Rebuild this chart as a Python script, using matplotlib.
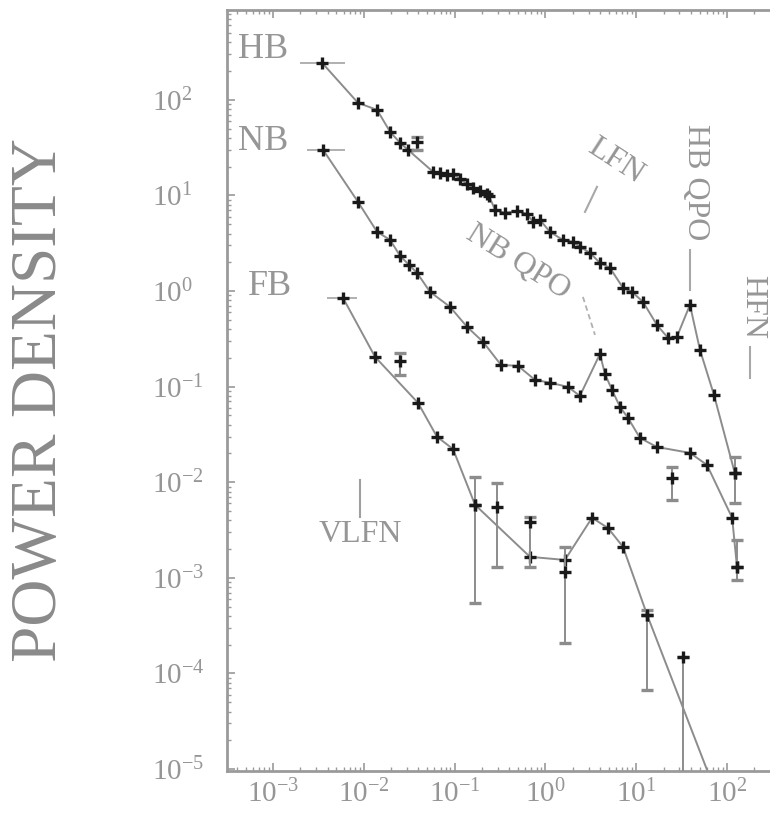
import numpy as np
import matplotlib
matplotlib.use('Agg')
import matplotlib.pyplot as plt

plt.rcParams['font.family'] = ['Liberation Serif', 'DejaVu Serif']
plt.rcParams['mathtext.fontset'] = 'custom'
plt.rcParams['mathtext.rm'] = 'Liberation Serif'
plt.rcParams['mathtext.it'] = 'Liberation Serif:italic'

# horizontal branch spectrum (Hz, power)
hb_freq = [0.00347, 0.00863, 0.0140, 0.0195, 0.0251, 0.0307, 0.0578, 0.0690, 0.0824,
           0.0960, 0.115, 0.137, 0.160, 0.190, 0.228, 0.239, 0.279, 0.359, 0.486,
           0.627, 0.730, 0.873, 1.12, 1.56, 2.01, 2.40, 3.10, 3.99, 5.14, 7.16, 8.99,
           11.9, 16.9, 22.4, 28.1, 39.1, 50.4, 71.9, 122]
hb_power = [244, 93.0, 78.6, 46.2, 35.5, 30.0, 17.7, 17.2, 16.4,
            16.8, 14.9, 13.2, 12.0, 11.2, 10.4, 9.91, 7.06, 6.58, 6.90,
            6.42, 5.30, 5.56, 4.16, 3.43, 3.27, 2.90, 2.51, 1.97, 1.75, 1.08, 0.981,
            0.771, 0.443, 0.324, 0.332, 0.718, 0.243, 0.0820, 0.0125]

# normal branch spectrum
nb_freq = [0.00356, 0.00863, 0.0140, 0.0195, 0.0251, 0.0315, 0.0386, 0.0536, 0.0890,
           0.137, 0.206, 0.324, 0.499, 0.767, 1.12, 1.77, 2.40, 3.99, 4.53, 5.41,
           6.63, 8.12, 11.0, 16.9, 39.1, 60.2, 114, 129]
nb_power = [30.0, 8.57, 4.16, 3.43, 2.33, 1.88, 1.55, 0.981, 0.684,
            0.423, 0.294, 0.169, 0.165, 0.118, 0.110, 0.0996, 0.0801, 0.220, 0.136, 0.0927,
            0.0615, 0.0472, 0.0291, 0.0234, 0.0203, 0.0152, 0.00425, 0.00130]

# flaring branch spectrum
fb_freq = [0.00590, 0.0133, 0.0395, 0.0640, 0.0960, 0.168, 0.676, 1.64, 3.26,
           4.89, 7.16, 13.2, 68.0]
fb_power = [0.849, 0.205, 0.0678, 0.0299, 0.0223, 0.00581, 0.00166, 0.00154, 0.00425,
            0.00333, 0.00211, 0.000410, 7.3e-6]

# points with vertical error bars: freq, power, lower, upper
err_freq = [0.0386, 0.0251, 0.168, 0.293, 0.676, 1.64, 13.2, 32.7, 24.8, 122, 129]
err_power = [36.4, 0.186, 0.00581, 0.00553, 0.00386, 0.00116, 0.000410, 0.000149,
             0.0111, 0.0125, 0.00130]
err_low = [30.0, 0.133, 0.000547, 0.00130, 0.00130, 0.000209, 6.7e-5, 3e-6,
           0.00655, 0.00610, 0.000953]
err_high = [41.0, 0.226, 0.0114, 0.00986, 0.00430, 0.00211, 0.000461, 0.000149,
            0.0145, 0.0184, 0.00250]

# first bins carry horizontal bars
first_freq = [0.00347, 0.00356, 0.00590]
first_power = [244, 30.0, 0.849]
first_left = [0.00198, 0.00237, 0.00394]
first_right = [0.00621, 0.00621, 0.00841]

xticks = [1e-3, 1e-2, 1e-1, 1e0, 1e1, 1e2]
xticklabels = [r'$10^{-3}$', r'$10^{-2}$', r'$10^{-1}$', r'$10^{0}$', r'$10^{1}$', r'$10^{2}$']
yticks = [1e-5, 1e-4, 1e-3, 1e-2, 1e-1, 1e0, 1e1, 1e2]
yticklabels = [r'$10^{-5}$', r'$10^{-4}$', r'$10^{-3}$', r'$10^{-2}$', r'$10^{-1}$',
               r'$10^{0}$', r'$10^{1}$', r'$10^{2}$']

line_c = '#8c8c8c'
mark_c = '#1a1a1a'
text_c = '#969696'

fig = plt.figure(figsize=(7.7, 8.17), dpi=100)
ax = fig.add_axes([227 / 770, 1 - 771 / 817, 1 - 227 / 770, 761 / 817])
ax.set_xscale('log')
ax.set_yscale('log')
ax.set_xlim(10 ** -3.507, 10 ** 2.474)
ax.set_ylim(10 ** -5.02, 10 ** 2.94)

for f, p in [(hb_freq, hb_power), (nb_freq, nb_power), (fb_freq, fb_power)]:
    ax.plot(f, p, '-', color=line_c, lw=1.4, zorder=2)
    ax.plot(f, p, '+', color=mark_c, ms=8, mew=2.4, zorder=3)

yerr = [np.array(err_power) - np.array(err_low), np.array(err_high) - np.array(err_power)]
ax.errorbar(err_freq, err_power, yerr=yerr, fmt='+', color=mark_c, ecolor=line_c,
            ms=8, mew=2.4, elinewidth=1.4, capsize=4, capthick=1.4, zorder=3)
xerr = [np.array(first_freq) - np.array(first_left), np.array(first_right) - np.array(first_freq)]
ax.errorbar(first_freq, first_power, xerr=xerr, fmt='none', ecolor='#b0b0b0',
            elinewidth=1.4, zorder=2)

# branch names and feature labels
ax.text(4.12e-4, 333, 'HB', fontsize=26, color=text_c, ha='left', va='center')
ax.text(4.12e-4, 36.4, 'NB', fontsize=26, color=text_c, ha='left', va='center')
ax.text(5.31e-4, 1.11, 'FB', fontsize=26, color=text_c, ha='left', va='center')
ax.text(0.00907, 0.00282, 'VLFN', fontsize=23, color=text_c, ha='center', va='center')
ax.plot([0.00907, 0.00907], [0.00435, 0.0106], color='#a0a0a0', lw=1.5)
ax.text(5.85, 23.0, 'LFN', fontsize=23, color=text_c, ha='center', va='center', rotation=-33)
ax.plot([3.70, 2.73], [12.3, 6.73], color='#a8a8a8', lw=1.5)
ax.text(0.499, 2.02, 'NB QPO', fontsize=23, color=text_c, ha='center', va='center',
        rotation=-32)
ax.plot([2.59, 3.52], [0.869, 0.348], color='#b0b0b0', lw=1.3, ls=(0, (3, 2)))
ax.text(44.5, 13.9, 'HB QPO', fontsize=23, color=text_c, ha='center', va='center',
        rotation=-90)
ax.plot([39.1, 39.1], [1.03, 2.70], color='#a8a8a8', lw=1.5)
ax.text(193, 0.684, 'HFN', fontsize=23, color=text_c, ha='center', va='center',
        rotation=-90)
ax.plot([179, 179], [0.124, 0.261], color='#a8a8a8', lw=1.5)

ax.set_xticks(xticks)
ax.set_xticklabels(xticklabels)
ax.set_yticks(yticks)
ax.set_yticklabels(yticklabels)
ax.tick_params(which='both', direction='in', top=True, right=False, colors='#9a9a9a',
               labelcolor=text_c)
ax.tick_params(which='major', length=6, width=1.2)
ax.tick_params(which='minor', length=3, width=1)
ax.tick_params(axis='x', labelsize=21, pad=6)
ax.tick_params(axis='y', labelsize=21, pad=54)
for lab in ax.get_yticklabels():
    lab.set_horizontalalignment('left')

for side in ['left', 'bottom', 'top']:
    ax.spines[side].set_color('#9a9a9a')
    ax.spines[side].set_linewidth(2)
ax.spines['right'].set_visible(False)

fig.text(40 / 770, 1 - 400 / 817, 'POWER DENSITY', fontsize=47, color='#8a8a8a',
         rotation=90, ha='center', va='center')

fig.savefig('out.png', dpi=100, facecolor='white')
